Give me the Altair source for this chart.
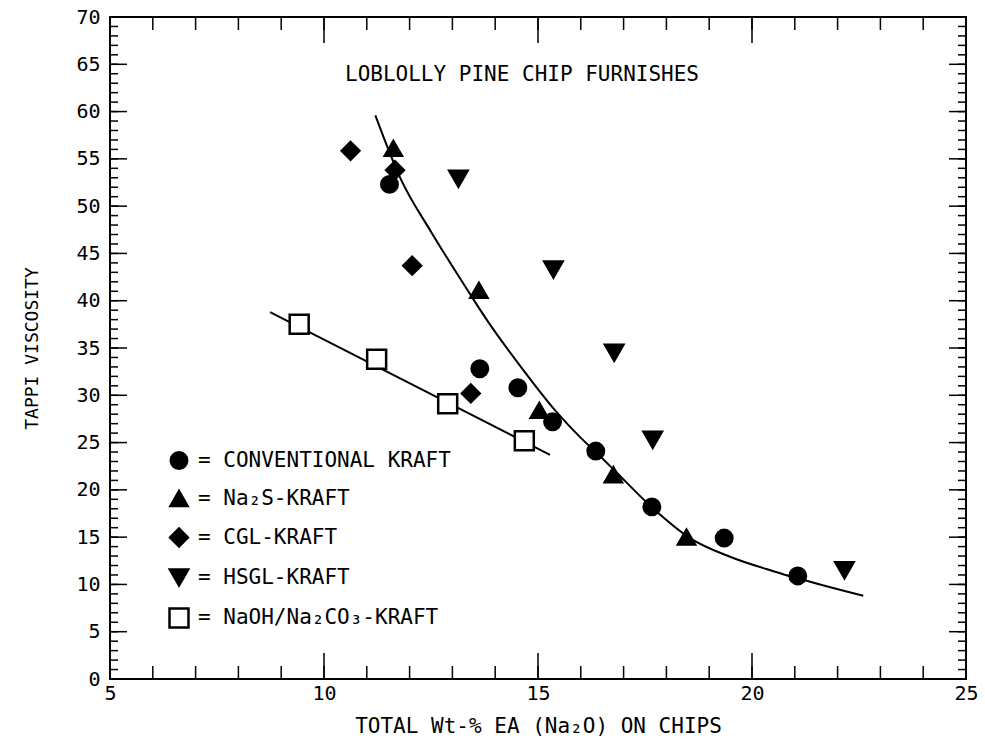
import altair as alt
import pandas as pd

# Measured viscosity points for each cooking process
conv_x = [11.53, 13.64, 14.53, 15.34, 16.35, 17.66, 19.35, 21.07]
conv_y = [52.3, 32.8, 30.8, 27.2, 24.1, 18.2, 14.9, 10.9]

na2s_x = [11.62, 13.62, 15.03, 16.76, 18.47]
na2s_y = [56.1, 41.1, 28.4, 21.6, 15.0]

cgl_x = [10.62, 11.66, 12.06, 13.43]
cgl_y = [55.85, 53.8, 43.7, 30.2]

hsgl_x = [13.14, 15.36, 16.78, 17.68, 22.16]
hsgl_y = [52.9, 43.3, 34.5, 25.3, 11.5]

naoh_x = [9.42, 11.23, 12.89, 14.68]
naoh_y = [37.5, 33.8, 29.1, 25.2]

# Fitted curve through the kraft-type cooks
fit_x = [11.2, 11.8, 12.5, 13.3, 13.8, 14.6, 15.4, 16.0, 16.35, 16.8, 17.65, 18.55, 19.5, 20.5, 21.1, 22.6]
fit_y = [59.6, 52.8, 47.3, 41.5, 38.0, 33.0, 28.4, 25.5, 24.0, 22.0, 18.2, 14.9, 12.9, 11.4, 10.6, 8.8]

# Straight fit through the NaOH/Na2CO3 cooks
lin_x = [8.74, 15.28]
lin_y = [38.8, 23.7]

series_names = [
    "= CONVENTIONAL KRAFT",
    "= Na₂S-KRAFT",
    "= CGL-KRAFT",
    "= HSGL-KRAFT",
    "= NaOH/Na₂CO₃-KRAFT",
]
series_shapes = ["circle", "triangle-up", "diamond", "triangle-down", "square"]
series_fills = ["black", "black", "black", "black", "white"]
series_strokes = ["black"] * 5
series_sizes = [270, 360, 400, 330, 150]

x_minor = list(range(5, 26))
x_major = [5, 10, 15, 20, 25]
y_minor = list(range(0, 71))
y_major = list(range(0, 71, 5))

panel_note = "LOBLOLLY PINE CHIP FURNISHES"
x_title = "TOTAL Wt-% EA (Na₂O) ON CHIPS"
y_title = "TAPPI VISCOSITY"

FONT = "DejaVu Sans Mono"
W, H = 856, 662

pts = pd.concat(
    [
        pd.DataFrame({"series": name, "x": xs, "y": ys})
        for name, xs, ys in zip(
            series_names,
            [conv_x, na2s_x, cgl_x, hsgl_x, naoh_x],
            [conv_y, na2s_y, cgl_y, hsgl_y, naoh_y],
        )
    ],
    ignore_index=True,
)
fit = pd.DataFrame({"x": fit_x, "y": fit_y})
lin = pd.DataFrame({"x": lin_x, "y": lin_y})

xscale = alt.Scale(domain=[5, 25], nice=False, zero=False)
yscale = alt.Scale(domain=[0, 70], nice=False, zero=False)

xaxis = alt.Axis(
    values=x_major, ticks=False, domain=False, grid=False,
    labelFont=FONT, labelFontSize=20, labelPadding=4, labelFlush=False,
    labelOverlap=False, labelColor="black",
    title=x_title, titleFont=FONT, titleFontSize=21, titleFontWeight="normal",
    titlePadding=12, titleColor="black",
)
yaxis = alt.Axis(
    values=y_major, ticks=False, domain=False, grid=False,
    labelFont=FONT, labelFontSize=20, labelPadding=10, labelFlush=False,
    labelOverlap=False, labelColor="black",
    title=y_title, titleFont=FONT, titleFontSize=18, titleFontWeight="normal",
    titlePadding=34, titleColor="black",
)


def X(field):
    return alt.X(f"{field}:Q", scale=xscale, axis=xaxis)


def Y(field):
    return alt.Y(f"{field}:Q", scale=yscale, axis=yaxis)


key = alt.Legend(title=None, labelLimit=0, symbolStrokeWidth=2.5)

points = alt.Chart(pts).mark_point(filled=True, strokeWidth=2.5, opacity=1).encode(
    x=X("x"),
    y=Y("y"),
    shape=alt.Shape("series:N", scale=alt.Scale(domain=series_names, range=series_shapes), legend=key),
    fill=alt.Fill("series:N", scale=alt.Scale(domain=series_names, range=series_fills), legend=key),
    stroke=alt.Stroke("series:N", scale=alt.Scale(domain=series_names, range=series_strokes), legend=key),
    size=alt.Size("series:N", scale=alt.Scale(domain=series_names, range=series_sizes), legend=key),
)

fit_line = alt.Chart(fit).mark_line(color="black", strokeWidth=2, interpolate="monotone").encode(x=X("x"), y=Y("y"))
lin_line = alt.Chart(lin).mark_line(color="black", strokeWidth=2).encode(x=X("x"), y=Y("y"))


def xticks(values, length, top):
    d = pd.DataFrame({"v": values})
    y0, y1 = (0, length) if top else (H, H - length)
    return alt.Chart(d).mark_rule(color="black", strokeWidth=1.5).encode(
        x=X("v"), y=alt.value(y0), y2=alt.value(y1)
    )


def yticks(values, length, right):
    d = pd.DataFrame({"v": values})
    x0, x1 = (W, W - length) if right else (0, length)
    return alt.Chart(d).mark_rule(color="black", strokeWidth=1.5).encode(
        y=Y("v"), x=alt.value(x0), x2=alt.value(x1)
    )


ticks = [
    xticks(x_minor, 13, False), xticks(x_major, 26, False),
    xticks(x_minor, 13, True), xticks(x_major, 26, True),
    yticks(y_minor, 8, False), yticks(y_major, 17, False),
    yticks(y_minor, 8, True), yticks(y_major, 17, True),
]

note = alt.Chart(pd.DataFrame({"label": [panel_note]})).mark_text(
    font=FONT, fontSize=21, color="black", align="center", baseline="middle"
).encode(text="label:N", x=alt.value(412), y=alt.value(58))

chart = (
    alt.layer(*ticks, fit_line, lin_line, points, note)
    .properties(
        width=W, height=H,
        autosize=alt.AutoSizeParams(type="none"),
        padding={"left": 110, "top": 17, "right": 19, "bottom": 60},
        background="white",
    )
    .configure_view(stroke="black", strokeWidth=2)
    .configure_legend(
        orient="none", legendX=58, legendY=433,
        labelFont=FONT, labelFontSize=21, labelColor="black", labelOffset=8,
        labelLimit=0, rowPadding=12, symbolOpacity=1, symbolStrokeWidth=2.5,
    )
)

chart.save("out.html", embed_options={"renderer": "svg", "actions": False})
